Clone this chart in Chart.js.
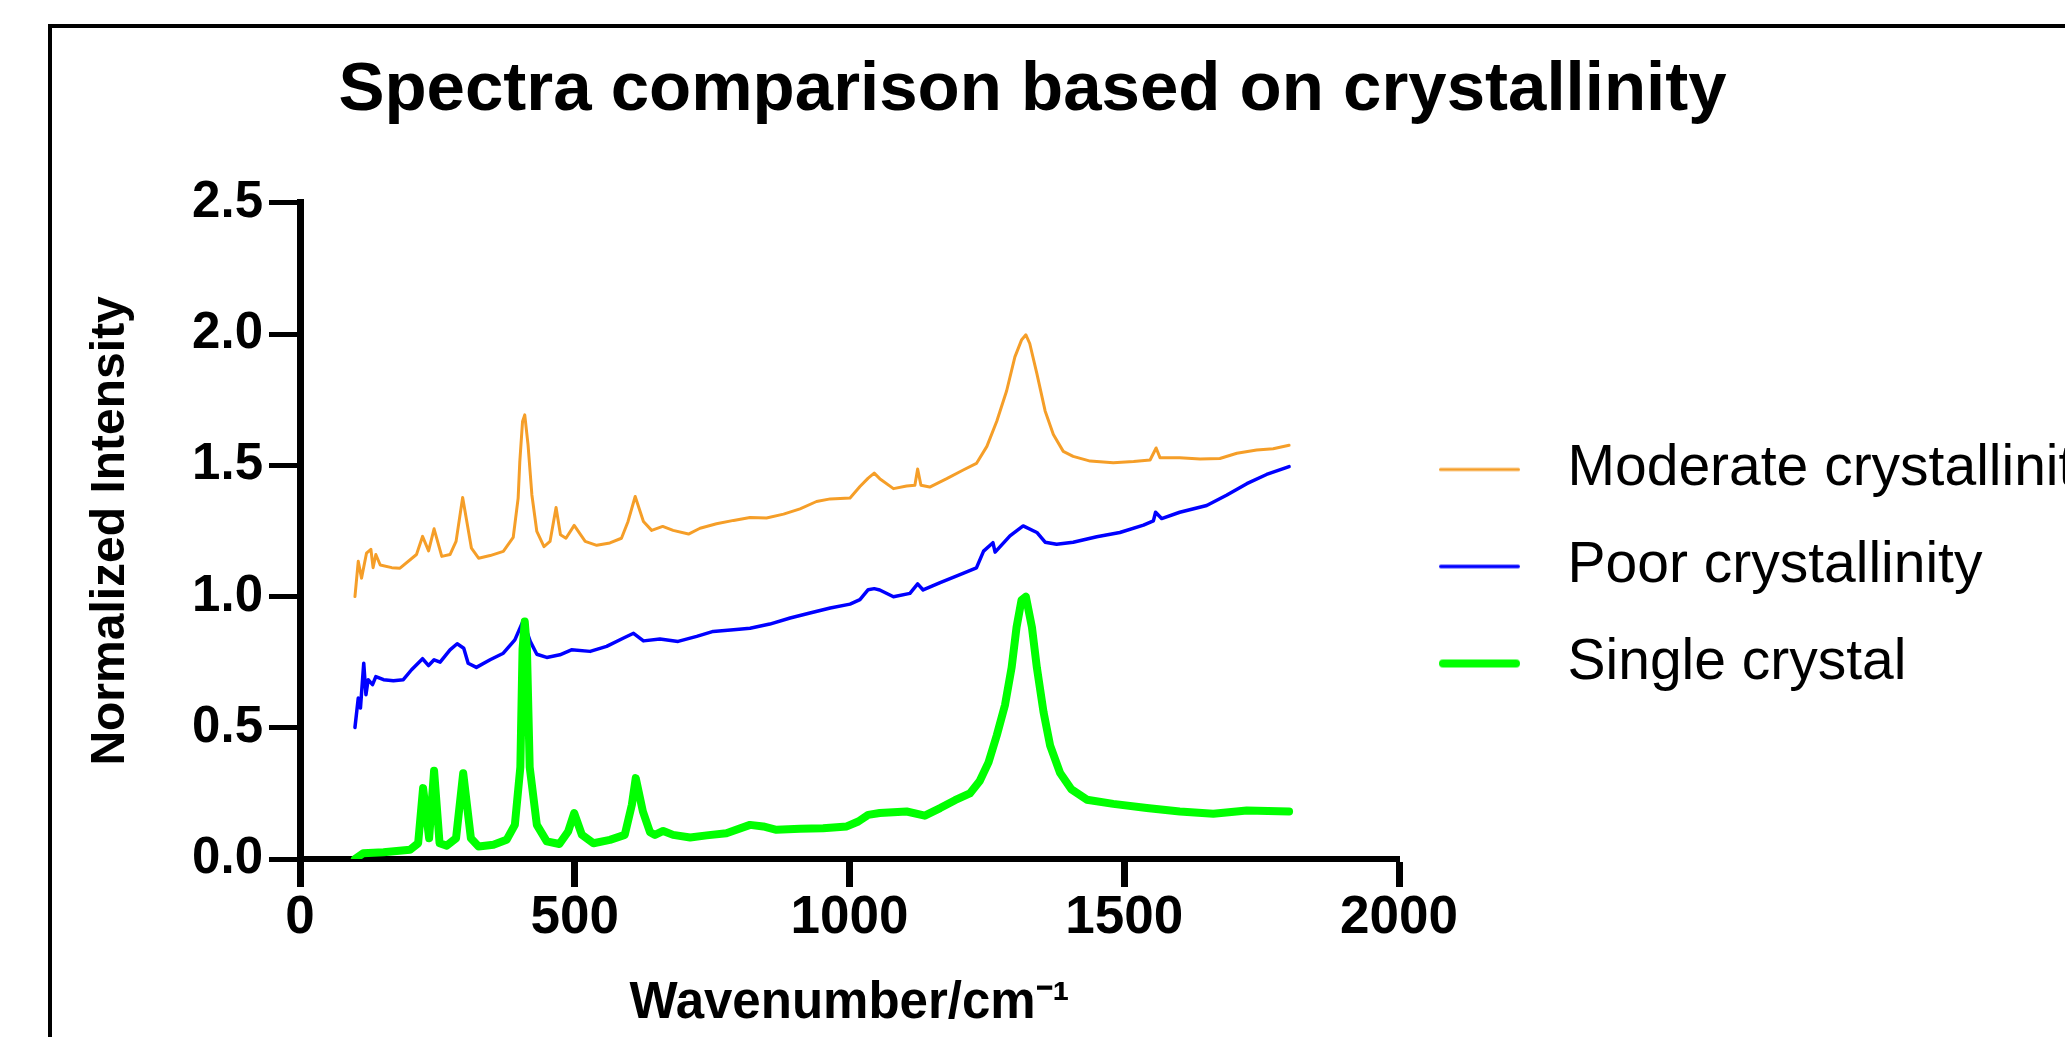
<!DOCTYPE html>
<html>
<head>
<meta charset="utf-8">
<script src="https://cdn.jsdelivr.net/npm/chart.js@4.4.1/dist/chart.umd.min.js"></script>
<style>
    html, body { margin: 0; padding: 0; background: #fff; }
    canvas { display: block; }
</style>
</head>
<body>
<canvas id="graficaEspectros" width="2065" height="1037"></canvas>
<script>
const seriesNames = ['Moderate crystallinity', 'Poor crystallinity', 'Single crystal'];

// Moderate crystallinity (orange)
const moderateX = [100,106,112,121,129,133,138,146,167,182,212,223,234,244,258,273,284,296,312,325,346,370,388,397,400,405,409,415,422,431,444,455,466,474,484,499,519,540,564,585,597,610,625,640,660,679,707,728,758,789,819,849,880,910,940,965,1001,1019,1034,1045,1055,1080,1104,1119,1124,1130,1146,1177,1207,1231,1250,1268,1286,1301,1313,1321,1328,1341,1356,1371,1389,1407,1438,1480,1517,1547,1558,1565,1601,1638,1674,1705,1741,1771,1800];
const moderateY = [1.0,1.134,1.07,1.165,1.18,1.11,1.16,1.12,1.11,1.108,1.16,1.229,1.174,1.258,1.153,1.16,1.21,1.377,1.184,1.146,1.156,1.172,1.225,1.375,1.514,1.667,1.692,1.578,1.387,1.248,1.19,1.21,1.339,1.235,1.222,1.271,1.21,1.195,1.204,1.222,1.286,1.381,1.286,1.252,1.267,1.252,1.238,1.26,1.277,1.29,1.301,1.299,1.314,1.334,1.362,1.372,1.375,1.419,1.451,1.47,1.449,1.411,1.421,1.424,1.486,1.424,1.417,1.449,1.482,1.507,1.572,1.668,1.784,1.913,1.977,1.997,1.964,1.849,1.707,1.617,1.553,1.534,1.516,1.51,1.514,1.52,1.566,1.529,1.529,1.524,1.526,1.546,1.558,1.563,1.576];

// Poor crystallinity (blue)
const poorX = [100,106,110,116,120,124,132,138,152,170,188,203,223,234,244,255,273,286,298,306,321,346,370,391,406,419,431,449,473,494,528,558,588,607,625,655,688,722,752,789,819,855,892,928,965,1001,1019,1034,1045,1055,1080,1110,1124,1134,1165,1201,1231,1244,1261,1265,1292,1316,1341,1356,1377,1407,1450,1492,1535,1553,1557,1568,1601,1650,1686,1723,1759,1800];
const poorY = [0.501,0.613,0.575,0.746,0.626,0.683,0.664,0.695,0.683,0.679,0.683,0.721,0.763,0.737,0.759,0.75,0.797,0.82,0.803,0.746,0.73,0.759,0.784,0.835,0.907,0.829,0.78,0.768,0.778,0.797,0.791,0.81,0.841,0.86,0.831,0.838,0.829,0.848,0.867,0.873,0.879,0.895,0.918,0.937,0.956,0.971,0.988,1.026,1.03,1.025,0.999,1.012,1.048,1.025,1.053,1.083,1.109,1.173,1.205,1.169,1.231,1.269,1.244,1.207,1.199,1.207,1.228,1.244,1.272,1.288,1.321,1.297,1.321,1.347,1.386,1.43,1.465,1.495];

// Single crystal (green)
const singleX = [100,115,152,200,215,224,235,244,254,267,284,297,311,325,352,376,391,401,405,409,413,418,431,449,472,488,499,513,534,564,591,604,611,624,637,646,661,679,710,740,776,819,843,867,910,952,995,1016,1034,1055,1104,1137,1165,1192,1219,1237,1253,1268,1283,1295,1304,1313,1321,1332,1341,1353,1365,1383,1404,1432,1480,1541,1601,1662,1723,1800];
const singleY = [0.0,0.022,0.026,0.035,0.06,0.27,0.079,0.336,0.06,0.051,0.079,0.327,0.079,0.048,0.054,0.073,0.13,0.35,0.8,0.905,0.8,0.35,0.13,0.067,0.057,0.105,0.175,0.092,0.06,0.073,0.092,0.207,0.308,0.181,0.102,0.092,0.107,0.092,0.082,0.09,0.098,0.13,0.124,0.111,0.115,0.117,0.124,0.143,0.168,0.175,0.181,0.165,0.194,0.224,0.25,0.297,0.368,0.471,0.587,0.729,0.883,0.986,0.999,0.883,0.729,0.561,0.433,0.329,0.265,0.226,0.21,0.194,0.181,0.172,0.185,0.181];

const xTicks = [0, 500, 1000, 1500, 2000];
const yTicks = [0, 0.5, 1.0, 1.5, 2.0, 2.5];

const fam = "'Liberation Sans', Arial, sans-serif";
const colores = ['rgb(245,158,40)', '#0000ff', '#00ff00'];
const grosores = [3, 3.5, 8];

const puntos = (xs, ys) => xs.map((x, i) => ({ x: x, y: ys[i] }));

// short line + empty gap, used as legend symbol
const lineaLeyenda = (color, grosor) => {
    const c = document.createElement('canvas');
    c.width = 100;
    c.height = 14;
    const g = c.getContext('2d');
    g.strokeStyle = color;
    g.lineWidth = grosor;
    g.lineCap = 'round';
    g.beginPath();
    g.moveTo(grosor / 2, 7);
    g.lineTo(81 - grosor / 2, 7);
    g.stroke();
    return c;
};
const simbolos = colores.map((c, i) => lineaLeyenda(c, grosores[i]));

// outer frame of the figure
const marco = {
    id: 'marco',
    beforeDraw(chart) {
        const ctx = chart.ctx;
        ctx.save();
        ctx.fillStyle = '#fff';
        ctx.fillRect(0, 0, chart.width, chart.height);
        ctx.strokeStyle = '#000';
        ctx.lineWidth = 4;
        ctx.strokeRect(50, 26, chart.width + 100, chart.height + 100);
        ctx.restore();
    }
};

// move the legend block down a bit
const ajusteLeyenda = {
    id: 'ajusteLeyenda',
    afterLayout(chart) {
        const lg = chart.legend;
        lg.top += 48;
        lg.bottom += 48;
    }
};

const canvas = document.getElementById('graficaEspectros');
const context = canvas.getContext('2d');

const chartEspectros = new Chart(context, {
    type: 'line',
    data: {
        datasets: [
            { label: seriesNames[0], data: puntos(moderateX, moderateY), borderColor: colores[0], borderWidth: grosores[0], order: 2 },
            { label: seriesNames[1], data: puntos(poorX, poorY), borderColor: colores[1], borderWidth: grosores[1], order: 3 },
            { label: seriesNames[2], data: puntos(singleX, singleY), borderColor: colores[2], borderWidth: grosores[2], order: 1 }
        ]
    },
    options: {
        responsive: false,
        animation: false,
        devicePixelRatio: 1,
        layout: { padding: 0 },
        elements: {
            point: { radius: 0 },
            line: { tension: 0, fill: false, borderJoinStyle: 'round', borderCapStyle: 'round' }
        },
        plugins: {
            tooltip: { enabled: false },
            title: {
                display: true,
                text: 'Spectra comparison based on crystallinity',
                color: '#000',
                font: { family: fam, weight: 'bold', size: 69 },
                padding: { top: 50, bottom: 70 }
            },
            legend: {
                position: 'right',
                align: 'center',
                maxWidth: 666,
                labels: {
                    color: '#000',
                    font: { family: fam, size: 57 },
                    padding: 40,
                    usePointStyle: true,
                    pointStyleWidth: 100,
                    generateLabels(chart) {
                        const items = Chart.defaults.plugins.legend.labels.generateLabels(chart);
                        items.sort((a, b) => a.datasetIndex - b.datasetIndex);
                        items.forEach(it => { it.pointStyle = simbolos[it.datasetIndex]; });
                        return items;
                    }
                }
            }
        },
        scales: {
            x: {
                type: 'linear',
                min: xTicks[0],
                max: xTicks[xTicks.length - 1],
                afterBuildTicks(scale) { scale.ticks = xTicks.map(v => ({ value: v })); },
                afterFit(scale) { scale.height = 178; },
                ticks: {
                    color: '#000',
                    padding: 0,
                    maxRotation: 0,
                    autoSkip: false,
                    font: { family: fam, weight: 'bold', size: 53 },
                    callback: v => String(v)
                },
                grid: { drawOnChartArea: false, drawTicks: true, tickLength: 28, tickWidth: 7, tickColor: '#000' },
                border: { display: true, color: '#000', width: 6 },
                title: {
                    display: true,
                    text: 'Wavenumber/cm⁻¹',
                    color: '#000',
                    font: { family: fam, weight: 'bold', size: 51 },
                    padding: { top: 0, bottom: 2 }
                }
            },
            y: {
                type: 'linear',
                min: yTicks[0],
                max: yTicks[yTicks.length - 1],
                afterBuildTicks(scale) { scale.ticks = yTicks.map(v => ({ value: v })); },
                afterFit(scale) { scale.width = 300; },
                ticks: {
                    color: '#000',
                    padding: 6,
                    autoSkip: false,
                    font: { family: fam, weight: 'bold', size: 51 },
                    callback: v => Number(v).toFixed(1)
                },
                grid: { drawOnChartArea: false, drawTicks: true, tickLength: 31, tickWidth: 5, tickColor: '#000' },
                border: { display: true, color: '#000', width: 7 },
                title: {
                    display: true,
                    text: 'Normalized Intensity',
                    color: '#000',
                    font: { family: fam, weight: 'bold', size: 48 },
                    padding: { top: 82, bottom: 0 }
                }
            }
        }
    },
    plugins: [marco, ajusteLeyenda]
});
</script>
</body>
</html>
